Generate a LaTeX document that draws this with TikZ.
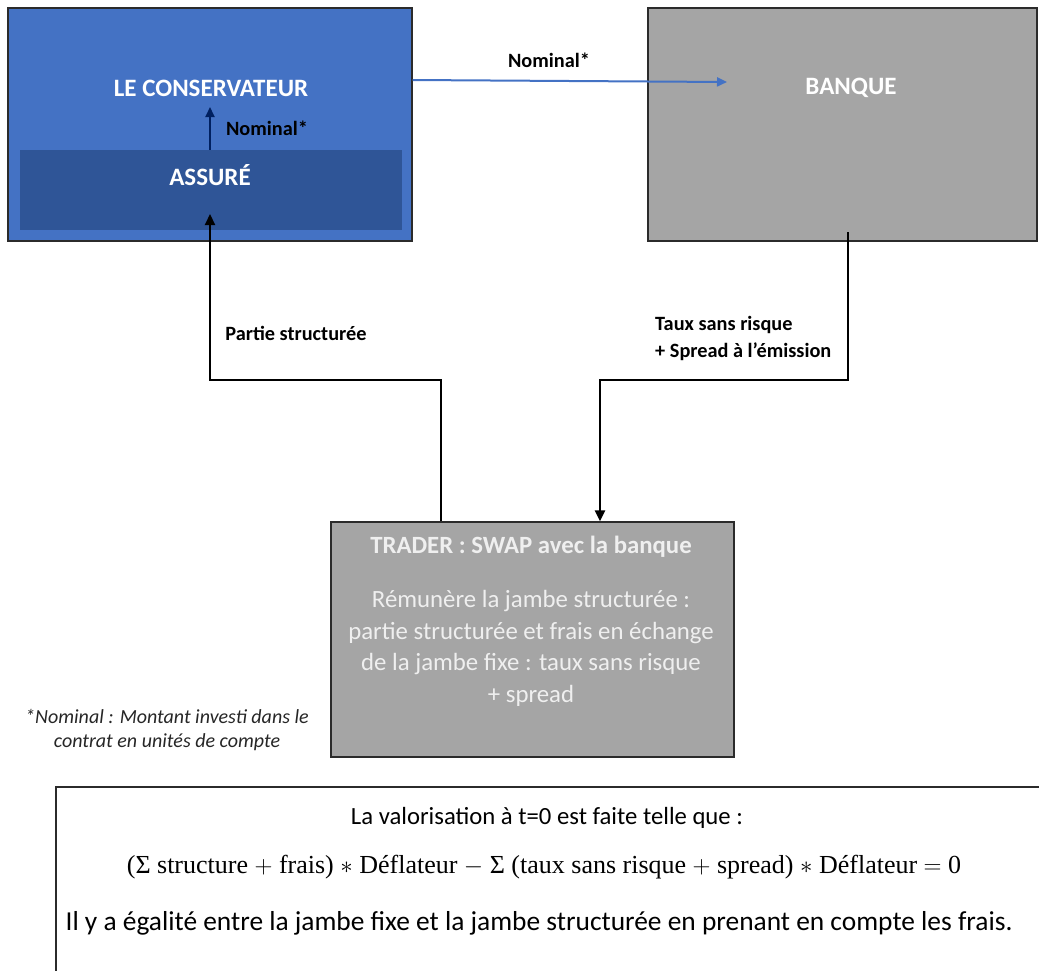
\documentclass[tikz,border=0pt]{standalone}
\usepackage{fontspec}
\setmainfont{Carlito}
\newfontfamily\eqfont{Liberation Serif}
\usetikzlibrary{arrows.meta}

\definecolor{consblue}{HTML}{4472C4}
\definecolor{assureblue}{HTML}{2F5597}
\definecolor{navy}{HTML}{002060}
\definecolor{boxgrey}{HTML}{A5A5A5}
\definecolor{edgegrey}{HTML}{2B2B2B}
\definecolor{softwhite}{HTML}{EFEFEF}

\tikzset{
  panel/.style={draw=edgegrey, line width=1.3pt, inner sep=0pt},
  boxtitle/.style={text=white, font=\bfseries\fontsize{25}{30}\selectfont},
  flowlabel/.style={text=black, font=\bfseries\fontsize{20.3}{26}\selectfont, inner sep=0pt},
  flow/.style={line width=2.2pt, -{Triangle[length=11pt,width=10pt]}},
}

\begin{document}
\begin{tikzpicture}[x=1pt, y=-1pt]
  \useasboundingbox (0,0) rectangle (1039,970);
  \clip (0,0) rectangle (1039,970);

  % --- top-left: the conservateur with the insured inside ---
  \node[panel, fill=consblue, minimum width=404pt, minimum height=233pt] (cons) at (210,124.5) {};
  \node[fill=assureblue, inner sep=0pt, minimum width=382pt, minimum height=80pt] (assure) at (211,190) {};
  \node[boxtitle] (consT) at (211,88) {LE CONSERVATEUR};
  \node[boxtitle] (assureT) at (210,175) {ASSURÉ};

  % --- top-right: the bank ---
  \node[panel, fill=boxgrey, minimum width=389pt, minimum height=233pt] (banque) at (842.5,124.5) {};
  \node[boxtitle] (banqueT) at (851,88) {BANQUE};

  % --- middle: the trader's swap ---
  \node[panel, fill=boxgrey, minimum width=403pt, minimum height=235pt] (trader) at (532.5,639.5) {};
  \node[text=softwhite, font=\bfseries\fontsize{24.8}{30}\selectfont] (traderT) at (531,547) {TRADER : SWAP avec la banque};
  \node[text=softwhite, font=\fontsize{24.8}{31.5}\selectfont, align=center, anchor=north] (traderB) at (531,587)
    {Rémunère la jambe structurée :\\partie structurée et frais en échange\\de la jambe fixe : taux sans risque\\+ spread};

  % --- nominal flows ---
  \coordinate (cons-out) at (cons.east |- 0,80);
  \coordinate (banque-in) at (727,82);
  \draw[consblue, line width=2pt, -{Triangle[length=10pt,width=9pt]}] (cons-out) -- (banque-in);
  \node[flowlabel] (nomA) at (549,60) {Nominal*};

  \coordinate (assure-top) at (assure.north -| 210,0);
  \coordinate (cons-in) at (210,107);
  \draw[navy, line width=2pt, -{Triangle[length=10pt,width=9pt]}] (assure-top) -- (cons-in);
  \node[flowlabel] (nomB) at (267,128) {Nominal*};

  % --- swap legs ---
  \coordinate (banque-out) at (848,232);
  \coordinate (legR1) at (848,380);
  \coordinate (legR2) at (600,380);
  \draw[flow, line join=miter] (banque-out) -- (legR1) -- (legR2) -- (legR2 |- trader.north);
  \node[flowlabel, align=left, anchor=west, font=\bfseries\fontsize{20.3}{27}\selectfont] (taux) at (655,338)
    {Taux sans risque\\+ Spread à l’émission};

  \coordinate (trader-out) at (441,0 |- trader.north);
  \coordinate (legL1) at (441,380);
  \coordinate (legL2) at (210,380);
  \coordinate (assure-in) at (210,214);
  \draw[flow, line join=miter] (trader-out) -- (legL1) -- (legL2) -- (assure-in);
  \node[flowlabel] (partie) at (296,333) {Partie structurée};

  % --- footnote ---
  \node[font=\itshape\fontsize{20}{24}\selectfont, align=center, text=black!85] (note) at (167,730)
    {*Nominal : Montant investi dans le\\contrat en unités de compte};

  % --- valuation box ---
  \draw[edgegrey, line width=1.2pt] (1045,787) -| (56,985);
  \node[font=\fontsize{24.7}{29}\selectfont] (val1) at (547,818) {La valorisation à t=0 est faite telle que :};
  \node[font=\eqfont\fontsize{26}{30}\selectfont] (val2) at (544,867)
    {(Σ structure $+$ frais) $\ast$ Déflateur $-$ Σ (taux sans risque $+$ spread) $\ast$ Déflateur $=$ 0};
  \node[font=\fontsize{27.4}{31}\selectfont] (val3) at (539,923)
    {Il y a égalité entre la jambe fixe et la jambe structurée en prenant en compte les frais.};
\end{tikzpicture}
\end{document}
